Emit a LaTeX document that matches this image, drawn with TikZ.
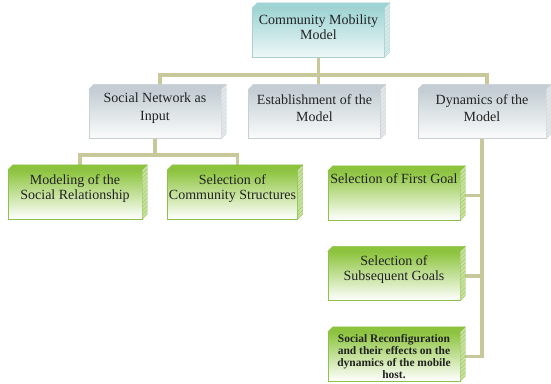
\documentclass[tikz,border=0pt]{standalone}
\usepackage{fontspec}
\setmainfont{Liberation Serif}
\usetikzlibrary{positioning, calc, backgrounds}

\definecolor{linkcol}{HTML}{C8C89A}
\definecolor{tealtop}{HTML}{9ED4D4}
\definecolor{tealbot}{HTML}{EEF7F7}
\definecolor{tealside}{HTML}{D5EAEA}
\definecolor{tealline}{HTML}{A9CFCF}
\definecolor{greytop}{HTML}{C3CDD3}
\definecolor{greybot}{HTML}{FBFCFC}
\definecolor{greyside}{HTML}{E3E7EA}
\definecolor{greyline}{HTML}{C9D0D4}
\definecolor{greentop}{HTML}{8CC43C}
\definecolor{greenbot}{HTML}{FFFFFF}
\definecolor{greenside}{HTML}{C6E19E}
\definecolor{greenline}{HTML}{8FBF4C}
\definecolor{inkcol}{HTML}{222222}

% top face and ribbed right face of a box
\newcommand{\boxsides}[4]{%
  \filldraw[fill=#2, draw=#4] (#1.north west) -- ++(5,-5) -- ([shift={(5pt,5pt)}]#1.north east) -- (#1.north east) -- cycle;
  \filldraw[fill=#3, draw=#4] (#1.north east) -- ++(5,-5) -- ([shift={(5pt,5pt)}]#1.south east) -- (#1.south east) -- cycle;
  \foreach \k in {1,...,11}
    {\draw[#4, very thin] ($(#1.north east)!\k/12!(#1.south east)$) -- ++(5,-5);}%
}

\begin{document}
\begin{tikzpicture}[x=1pt, y=-1pt,
  box/.style={rectangle, inner sep=0pt, minimum width=132pt, minimum height=49pt},
  tealbox/.style={box, draw=tealline, top color=tealtop, bottom color=tealbot},
  greybox/.style={box, draw=greyline, top color=greytop, bottom color=greybot},
  greenbox/.style={box, draw=greenline, top color=greentop, bottom color=greenbot},
  boxtext/.style={align=center, inner sep=0pt, text=inkcol, font=\fontsize{14}{15}\selectfont},
  greytext/.style={boxtext, font=\fontsize{14}{17.5}\selectfont},
  link/.style={draw=linkcol, line width=3.8pt}]
\useasboundingbox (0,0) rectangle (551,383);

% boxes
\node[tealbox] (top) at (318.5,32.5) {};
\node[greybox] (soc) at (155,114) {};
\node[greybox] (est) at (314.5,114) {};
\node[greybox, minimum width=128pt] (dyn) at (482,114) {};
\node[greenbox, minimum width=134pt] (mod) at (75,194.5) {};
\node[greenbox, minimum width=130pt] (com) at (232.5,194.5) {};
\node[greenbox] (fg) at (394,195.5) {};
\node[greenbox] (sg) at (394,276) {};
\node[greenbox, minimum height=49pt] (rc) at (394,356.5) {};

\boxsides{top}{tealtop}{tealside}{tealline}
\foreach \b in {soc,est,dyn} {\boxsides{\b}{greytop}{greyside}{greyline}}
\foreach \b in {mod,com,fg,sg,rc} {\boxsides{\b}{greentop}{greenside}{greenline}}

% texts
\node[boxtext] (top-t) at ([yshift=5pt]top.center) {Community Mobility\\Model};
\node[greytext] (soc-t) at ([yshift=6pt]soc.center) {Social Network as\\Input};
\node[greytext] (est-t) at ([yshift=6pt]est.center) {Establishment of the\\Model};
\node[greytext] (dyn-t) at ([yshift=6pt]dyn.center) {Dynamics of the\\Model};
\node[boxtext] (mod-t) at ([yshift=6pt]mod.center) {Modeling of the\\Social Relationship};
\node[boxtext] (com-t) at ([yshift=6pt]com.center) {Selection of\\Community Structures};
\node[boxtext, below=3pt of fg.north] (fg-t) {Selection of First Goal};
\node[boxtext] (sg-t) at ([yshift=6pt]sg.center) {Selection of\\Subsequent Goals};
\node[boxtext, font=\bfseries\fontsize{11.5}{12.2}\selectfont, below=2pt of rc.north] (rc-t) {Social Reconfiguration\\and their effects on the\\dynamics of the mobile\\host.};

% connectors
\begin{scope}[on background layer]
\coordinate (bus) at ([yshift=-18pt]top.south);
\coordinate (socbus) at ([yshift=-16pt]soc.south);
\draw[link] (top.south) -- (top.south |- est.north);
\draw[link] ([xshift=5pt]soc.north) |- (bus) -| ([xshift=5pt]dyn.north);
\draw[link] (soc.south) -- (socbus);
\draw[link] ([xshift=5pt]mod.north) |- (socbus) -| ([xshift=5pt]com.north);
\draw[link] (dyn.south) |- (rc.east);
\draw[link] (fg.east) -- (fg.east -| dyn.south);
\draw[link] (sg.east) -- (sg.east -| dyn.south);
\end{scope}
\end{tikzpicture}
\end{document}
